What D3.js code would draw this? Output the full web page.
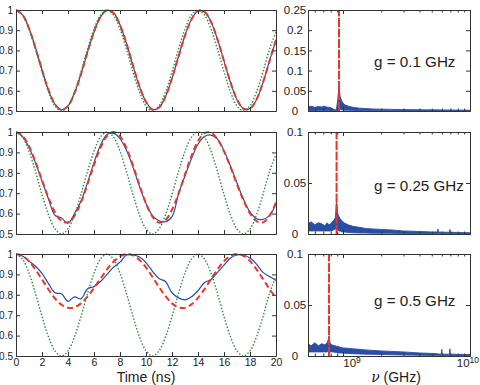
<!DOCTYPE html>
<html><head><meta charset="utf-8">
<script src="https://cdn.jsdelivr.net/npm/d3@7"></script>
<style>
body{margin:0;background:#fff}
svg{display:block}
text{font-family:"Liberation Sans",Arial,Helvetica,sans-serif;fill:#222}
</style>
</head><body>
<svg id="chart" width="480" height="385"></svg>
<script>
// ---------------- DATA ----------------
const timeNs = [0,0.5,1,1.5,2,2.5,3,3.5,4,4.5,5,5.5,6,6.5,7,7.5,8,8.5,9,9.5,10,10.5,11,11.5,12,12.5,13,13.5,14,14.5,15,15.5,16,16.5,17,17.5,18,18.5,19,19.5,20];
const timeTicks = [0,2,4,6,8,10,12,14,16,18,20];
const probTicks = [0.5,0.6,0.7,0.8,0.9,1];

// bare Rabi oscillation (green dotted), same in the three panels
const bareRabi = [1.0,0.975,0.906,0.806,0.694,0.594,0.525,0.5,0.525,0.594,0.694,0.806,0.906,0.975,1.0,0.975,0.906,0.806,0.694,0.594,0.525,0.5,0.525,0.594,0.694,0.806,0.906,0.975,1.0,0.975,0.906,0.806,0.694,0.594,0.525,0.5,0.525,0.594,0.694,0.806,0.89];

// g = 0.1 GHz
const blueG01 = [1.0,0.977,0.910,0.813,0.705,0.603,0.533,0.506,0.525,0.589,0.683,0.790,0.891,0.965,0.998,0.986,0.927,0.834,0.724,0.621,0.546,0.508,0.516,0.571,0.661,0.770,0.874,0.953,0.995,0.990,0.942,0.854,0.748,0.641,0.556,0.512,0.512,0.556,0.641,0.748,0.852];
const redG01 = [1.0,0.976,0.909,0.812,0.704,0.604,0.534,0.505,0.524,0.588,0.682,0.791,0.892,0.966,0.999,0.985,0.926,0.833,0.725,0.622,0.545,0.507,0.517,0.572,0.662,0.769,0.873,0.954,0.996,0.991,0.941,0.853,0.747,0.642,0.557,0.511,0.511,0.557,0.642,0.747,0.853];

// g = 0.25 GHz
const blueG025 = [1.0,0.978,0.925,0.848,0.760,0.672,0.592,0.578,0.553,0.600,0.660,0.752,0.850,0.935,0.988,0.993,0.968,0.910,0.828,0.733,0.650,0.590,0.565,0.560,0.585,0.695,0.785,0.870,0.940,0.978,0.985,0.965,0.908,0.832,0.750,0.670,0.608,0.575,0.572,0.590,0.650];
const redG025 = [1.0,0.982,0.930,0.853,0.764,0.677,0.606,0.564,0.557,0.589,0.655,0.744,0.839,0.923,0.980,1.0,0.979,0.921,0.835,0.739,0.650,0.585,0.556,0.568,0.619,0.698,0.792,0.883,0.955,0.995,0.996,0.964,0.905,0.828,0.743,0.664,0.601,0.563,0.557,0.589,0.655];

// g = 0.5 GHz
const blueG05 = [1.0,0.99,0.965,0.94,0.905,0.855,0.81,0.805,0.768,0.79,0.78,0.83,0.84,0.865,0.90,0.935,0.96,0.995,0.995,0.985,0.958,0.915,0.88,0.865,0.81,0.785,0.775,0.79,0.82,0.86,0.875,0.91,0.945,0.98,0.995,0.995,0.98,0.95,0.91,0.89,0.87];
const redG05 = [1.0,0.991,0.964,0.923,0.875,0.826,0.782,0.751,0.736,0.739,0.758,0.791,0.833,0.879,0.924,0.962,0.988,1.0,0.994,0.971,0.934,0.887,0.838,0.793,0.758,0.738,0.736,0.753,0.785,0.828,0.877,0.925,0.965,0.991,1.0,0.991,0.965,0.925,0.877,0.828,0.785];

// spectra (right column)
const freqHz = [5.3e8,5.6e8,6.0e8,6.4e8,6.8e8,7.2e8,7.5e8,7.65e8,7.76e8,7.9e8,8.1e8,8.4e8,8.7e8,8.9e8,9.1e8,9.3e8,9.5e8,9.8e8,1.02e9,1.1e9,1.2e9,1.35e9,1.5e9,1.7e9,2.0e9,2.4e9,3.0e9,4.0e9,5.0e9,5.55e9,5.6e9,5.65e9,5.95e9,6.0e9,6.05e9,6.9e9,6.95e9,7.0e9,8.0e9,1.0e10];
const specHiG01 = [0.010,0.012,0.009,0.011,0.010,0.012,0.009,0.010,0.008,0.009,0.007,0.005,0.002,0.006,0.030,0.062,0.035,0.024,0.016,0.012,0.009,0.007,0.006,0.005,0.0045,0.004,0.0035,0.003,0.0028,0.0028,0.0028,0.0028,0.0025,0.0025,0.0025,0.0025,0.0025,0.0025,0.0022,0.002];
const specLoG01 = [0.001,0.001,0.001,0.001,0.001,0.001,0.001,0.001,0.001,0.001,0.001,0.0005,0,0.001,0.004,0.006,0.004,0.003,0.002,0.002,0.0015,0.0012,0.001,0.001,0.001,0.001,0.0008,0.0008,0.0006,0.0006,0.0006,0.0006,0.0005,0.0005,0.0005,0.0005,0.0005,0.0005,0.0005,0.0005];
const specHiG025 = [0.010,0.012,0.009,0.011,0.010,0.008,0.011,0.009,0.010,0.009,0.011,0.013,0.016,0.031,0.020,0.017,0.015,0.013,0.011,0.009,0.0075,0.0065,0.0055,0.005,0.0045,0.004,0.003,0.0025,0.002,0.002,0.005,0.002,0.0018,0.0018,0.0018,0.0017,0.0045,0.0017,0.0015,0.0012];
const specLoG025 = [0.003,0.003,0.003,0.003,0.003,0.003,0.003,0.003,0.003,0.003,0.003,0.004,0.005,0.005,0.004,0.003,0.003,0.002,0.002,0.0015,0.0012,0.001,0.001,0.0008,0.0008,0.0007,0.0006,0.0005,0.0005,0.0005,0.0005,0.0005,0.0005,0.0005,0.0005,0.0005,0.0005,0.0005,0.0005,0.0005];
const specHiG05 = [0.012,0.010,0.013,0.010,0.012,0.011,0.013,0.016,0.020,0.013,0.011,0.0105,0.010,0.0095,0.0095,0.009,0.0085,0.008,0.0078,0.0075,0.007,0.0065,0.006,0.0055,0.005,0.0045,0.004,0.003,0.0025,0.0022,0.002,0.002,0.0018,0.0065,0.0018,0.0018,0.007,0.0018,0.0016,0.0014];
const specLoG05 = [0.004,0.004,0.004,0.004,0.004,0.004,0.004,0.005,0.005,0.004,0.004,0.004,0.0035,0.0035,0.003,0.003,0.003,0.003,0.0028,0.0025,0.0022,0.002,0.0018,0.0016,0.0015,0.0012,0.001,0.0008,0.0006,0.0006,0.0006,0.0006,0.0006,0.0006,0.0006,0.0006,0.0006,0.0006,0.0005,0.0005];
const peakHz = [9.3e8, 8.9e8, 7.76e8];
const specMax = [0.25, 0.1, 0.1];
const specTicks = [[0,0.05,0.1,0.15,0.2,0.25],[0,0.05,0.1],[0,0.05,0.1]];
const couplingLabels = ["g = 0.1 GHz","g = 0.25 GHz","g = 0.5 GHz"];
const logMajor = [1e9, 1e10];
const logMinor = [6e8,7e8,8e8,9e8,2e9,3e9,4e9,5e9,6e9,7e9,8e9,9e9];

const panels = [
  {blue: blueG01, red: redG01, hi: specHiG01, lo: specLoG01},
  {blue: blueG025, red: redG025, hi: specHiG025, lo: specLoG025},
  {blue: blueG05, red: redG05, hi: specHiG05, lo: specLoG05}
];

// ---------------- LAYOUT ----------------
const svg = d3.select("#chart");
const rowTop = [10, 132, 254];
const rowBot = [111, 234, 356];
const L = {x0: 16, x1: 276};
const R = {x0: 308, x1: 470};
const BLUE = "#2a4ea6", RED = "#e8372a", GREEN = "#2f8c45", AX = "#333";

function styleAxis(g, fs){
  g.select(".domain").attr("stroke", AX);
  g.selectAll(".tick line").attr("stroke", AX);
  g.attr("font-family", '"Liberation Sans",Arial,sans-serif').attr("font-size", fs);
  g.selectAll("text").attr("fill", "#222");
}

const defs = svg.append("defs");

panels.forEach((p, i) => {
  const top = rowTop[i], bot = rowBot[i];
  // ----- left: time traces
  const x = d3.scaleLinear([0, 20], [L.x0, L.x1]);
  const y = d3.scaleLinear([0.5, 1], [bot, top]);
  defs.append("clipPath").attr("id", "cl" + i).append("rect")
    .attr("x", L.x0).attr("y", top - 1).attr("width", L.x1 - L.x0).attr("height", bot - top + 2);
  const gl = svg.append("g");
  gl.append("rect").attr("x", L.x0).attr("y", top).attr("width", L.x1 - L.x0).attr("height", bot - top).attr("fill", "#fff");
  const plot = gl.append("g").attr("clip-path", `url(#cl${i})`);
  const line = arr => d3.line().x((d, k) => x(timeNs[k])).y(d => y(d)).curve(d3.curveCatmullRom.alpha(0.5))(arr);
  plot.append("path").attr("d", line(p.blue)).attr("fill", "none").attr("stroke", BLUE).attr("stroke-width", 1.2);
  plot.append("path").attr("d", line(p.red)).attr("fill", "none").attr("stroke", RED).attr("stroke-width", 2).attr("stroke-dasharray", "6,3.5");
  plot.append("path").attr("d", line(bareRabi)).attr("fill", "none").attr("stroke", GREEN).attr("stroke-width", 1.4).attr("stroke-dasharray", "1.5,1.8");

  const ab = gl.append("g").attr("transform", `translate(0,${bot})`)
    .call(d3.axisBottom(x).tickValues(timeTicks).tickSize(-4).tickSizeOuter(0).tickPadding(3)
      .tickFormat(i === 2 ? d3.format("d") : () => ""));
  styleAxis(ab, 10.5);
  const at = gl.append("g").attr("transform", `translate(0,${top})`)
    .call(d3.axisTop(x).tickValues(timeTicks).tickSize(-4).tickSizeOuter(0).tickFormat(() => ""));
  styleAxis(at, 10);
  const al = gl.append("g").attr("transform", `translate(${L.x0},0)`)
    .call(d3.axisLeft(y).tickValues(probTicks).tickSize(-4).tickSizeOuter(0).tickPadding(3).tickFormat(d3.format("~g")));
  styleAxis(al, 10);
  const ar = gl.append("g").attr("transform", `translate(${L.x1},0)`)
    .call(d3.axisRight(y).tickValues(probTicks).tickSize(-4).tickSizeOuter(0).tickFormat(() => ""));
  styleAxis(ar, 10);

  // ----- right: spectra
  const xs = d3.scaleLog([5.3e8, 1e10], [R.x0, R.x1]);
  const ys = d3.scaleLinear([0, specMax[i]], [bot, top]);
  defs.append("clipPath").attr("id", "cr" + i).append("rect")
    .attr("x", R.x0).attr("y", top).attr("width", R.x1 - R.x0).attr("height", bot - top);
  const gr = svg.append("g");
  const sp = gr.append("g").attr("clip-path", `url(#cr${i})`);
  const area = d3.area().x((d, k) => xs(freqHz[k])).y0((d, k) => ys(p.lo[k])).y1(d => ys(d));
  sp.append("path").attr("d", area(p.hi)).attr("fill", BLUE).attr("stroke", BLUE).attr("stroke-width", 0.9).attr("stroke-linejoin", "round");
  sp.append("line").attr("x1", xs(peakHz[i])).attr("x2", xs(peakHz[i]))
    .attr("y1", ys(0)).attr("y2", ys(specMax[i]))
    .attr("stroke", RED).attr("stroke-width", 2).attr("stroke-dasharray", "9,1.5");

  const rb = gr.append("g").attr("transform", `translate(0,${bot})`)
    .call(d3.axisBottom(xs).tickValues(logMajor).tickSize(-4).tickSizeOuter(0).tickFormat(() => ""));
  styleAxis(rb, 11);
  const rbm = gr.append("g").attr("transform", `translate(0,${bot})`)
    .call(d3.axisBottom(xs).tickValues(logMinor).tickSize(-2.5).tickSizeOuter(0).tickFormat(() => ""));
  styleAxis(rbm, 11);
  const rt = gr.append("g").attr("transform", `translate(0,${top})`)
    .call(d3.axisTop(xs).tickValues(logMajor).tickSize(-4).tickSizeOuter(0).tickFormat(() => ""));
  styleAxis(rt, 11);
  const rtm = gr.append("g").attr("transform", `translate(0,${top})`)
    .call(d3.axisTop(xs).tickValues(logMinor).tickSize(-2.5).tickSizeOuter(0).tickFormat(() => ""));
  styleAxis(rtm, 11);
  const rl = gr.append("g").attr("transform", `translate(${R.x0},0)`)
    .call(d3.axisLeft(ys).tickValues(specTicks[i]).tickSize(-4).tickSizeOuter(0).tickPadding(13).tickFormat(d3.format("~g")));
  styleAxis(rl, 11.5);
  rl.selectAll("text").attr("text-anchor", "middle");
  const rr = gr.append("g").attr("transform", `translate(${R.x1},0)`)
    .call(d3.axisRight(ys).tickValues(specTicks[i]).tickSize(-4).tickSizeOuter(0).tickFormat(() => ""));
  styleAxis(rr, 11);

  gr.append("text").attr("x", 374).attr("y", (top + bot) / 2 + (i === 0 ? 6 : i === 1 ? 8 : 1))
    .attr("font-size", 15.2).text(couplingLabels[i]);

  if (i === 2) {
    logMajor.forEach((v, k) => {
      const last = k === logMajor.length - 1;
      const t = gr.append("text")
        .attr("x", last ? 479 : xs(v) + 9).attr("y", bot + 11)
        .attr("text-anchor", last ? "end" : "middle").attr("font-size", 11.5);
      t.append("tspan").text("10");
      t.append("tspan").attr("dy", -4.5).attr("font-size", 8.5).text(Math.round(Math.log10(v)));
    });
  }
});

// axis titles
svg.append("text").attr("x", 146).attr("y", 382).attr("text-anchor", "middle").attr("font-size", 14).text("Time (ns)");
const nu = svg.append("text").attr("x", 396).attr("y", 382).attr("text-anchor", "middle").attr("font-size", 14);
nu.append("tspan").attr("font-style", "italic").attr("font-family", "'DejaVu Serif',serif").text("ν");
nu.append("tspan").text(" (GHz)");
</script>
</body></html>
